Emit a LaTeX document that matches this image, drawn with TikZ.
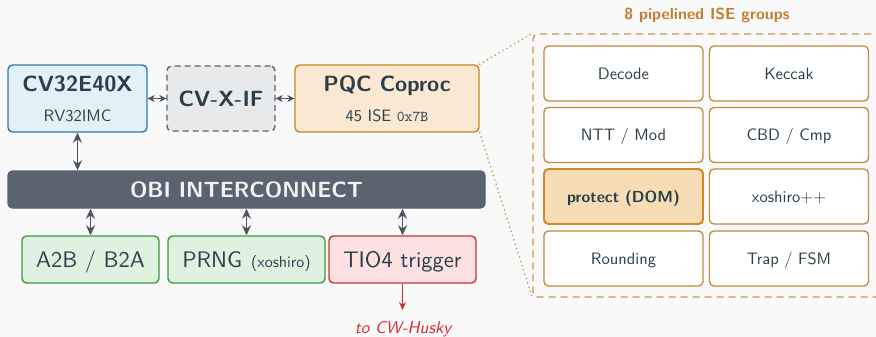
\documentclass[tikz,border=0pt]{standalone}
\usepackage{fontspec}
\setsansfont{lmsans10-regular.otf}[BoldFont=lmsans10-bold.otf, ItalicFont=lmsans10-oblique.otf, BoldItalicFont=lmsans10-boldoblique.otf]
\setmonofont{lmmono10-regular.otf}
\usetikzlibrary{arrows.meta}

\definecolor{bgc}{HTML}{F9F9F9}
\definecolor{ink}{HTML}{2C3E4A}
\definecolor{cpufill}{HTML}{E4F0F8}
\definecolor{cpuline}{HTML}{2F78B0}
\definecolor{xiffill}{HTML}{E8E9EB}
\definecolor{xifline}{HTML}{5C6470}
\definecolor{pqcfill}{HTML}{FBE8D2}
\definecolor{pqcline}{HTML}{C98526}
\definecolor{busfill}{HTML}{5B6370}
\definecolor{bustext}{HTML}{F2F2F2}
\definecolor{grnfill}{HTML}{E0F2DF}
\definecolor{grnline}{HTML}{3D9A3F}
\definecolor{redfill}{HTML}{FCE0E2}
\definecolor{redline}{HTML}{CC3333}
\definecolor{arrowc}{HTML}{4A5563}
\definecolor{husky}{HTML}{D42A2A}
\definecolor{framec}{HTML}{C99A4E}
\definecolor{titlec}{HTML}{C08030}
\definecolor{cellline}{HTML}{C18A3C}
\definecolor{protfill}{HTML}{F6DDB5}
\definecolor{protline}{HTML}{D3881E}

\tikzset{
  blk/.style={rectangle, rounded corners=4.5pt, line width=1.4pt, inner sep=0pt, text=ink, font=\sffamily},
  bigtitle/.style={font=\sffamily\bfseries\fontsize{22}{26}\selectfont, text=ink, inner sep=0pt, anchor=base},
  subtitle/.style={font=\sffamily\fontsize{16.5}{20}\selectfont, text=ink, inner sep=0pt, anchor=base},
  cpubox/.style={blk, draw=cpuline, fill=cpufill, minimum width=139pt, minimum height=67pt},
  xifbox/.style={blk, draw=xifline, fill=xiffill, dash pattern=on 6pt off 4pt, minimum width=108pt, minimum height=65pt,
                 font=\sffamily\bfseries\fontsize{22}{26}\selectfont, text height=15.3pt, text depth=0pt},
  pqcbox/.style={blk, draw=pqcline, fill=pqcfill, minimum width=184pt, minimum height=67pt},
  busbox/.style={blk, draw=busfill, fill=busfill, text=bustext, minimum width=477pt, minimum height=37pt,
                 font=\sffamily\bfseries\fontsize{22}{26}\selectfont, text height=15.3pt, text depth=0pt},
  periph/.style={blk, minimum height=47pt, font=\sffamily\fontsize{22.5}{26}\selectfont, text height=15.6pt, text depth=0pt},
  grnbox/.style={periph, draw=grnline, fill=grnfill},
  redbox/.style={periph, draw=redline, fill=redfill},
  groupframe/.style={rectangle, rounded corners=5pt, draw=framec, line width=1.4pt, dash pattern=on 7pt off 5pt,
                     minimum width=367pt, minimum height=263pt, inner sep=0pt},
  cell/.style={blk, draw=cellline, fill=white, line width=1.3pt, minimum width=159pt, minimum height=55pt,
               font=\sffamily\fontsize{16.5}{20}\selectfont, text height=11.45pt, text depth=0pt},
  hotcell/.style={cell, draw=protline, fill=protfill, line width=1.9pt, font=\sffamily\bfseries\fontsize{16}{20}\selectfont},
  link/.style={draw=arrowc, line width=1.8pt, {Stealth[length=10pt,width=9pt]}-{Stealth[length=10pt,width=9pt]}},
  shortlink/.style={draw=arrowc, line width=1.8pt, {Stealth[length=7pt,width=7pt]}-{Stealth[length=7pt,width=7pt]}},
  zoomline/.style={draw=cellline, line width=1.7pt, line cap=round, dash pattern=on 0pt off 4.5pt}
}

\begin{document}
\begin{tikzpicture}[x=1pt,y=-1pt]
  \fill[bgc] (0,0) rectangle (876,337);
  \useasboundingbox (0,0) rectangle (876,337);
  \clip (0,0) rectangle (876,337);

  % core, interface and coprocessor
  \node[cpubox] (cpu) at (77.5,98.5) {};
  \node[bigtitle] (cpuname) at (77.5,91.6) {CV32E40X};
  \node[subtitle] (cpuisa) at (77.5,121.7) {RV32IMC};

  \node[xifbox] (xif) at (221,98.5) {CV-X-IF};

  \node[pqcbox] (pqc) at (387,98.5) {};
  \node[bigtitle] (pqcname) at (387,91.6) {PQC Coproc};
  \node[subtitle] (pqcops) at (387,121.7) {45 ISE {\ttfamily\fontsize{15}{18}\selectfont 0x7B}};

  \draw[shortlink] (cpu.east) -- (xif.west);
  \draw[shortlink] (xif.east) -- (pqc.west);

  % bus and peripherals
  \node[busbox] (obi) at (246.5,189.5) {OBI INTERCONNECT};
  \draw[link] (cpu.south) -- (obi.north -| cpu.south);

  \node[grnbox, minimum width=137pt] (a2b) at (90.5,259.5) {A2B / B2A};
  \node[grnbox, minimum width=157pt] (prng) at (246.5,259.5) {PRNG\hspace{9pt}{\fontsize{16}{19}\selectfont(xoshiro)}};
  \node[redbox, minimum width=147pt] (tio) at (402.5,259.5) {TIO4 trigger};

  \draw[link] (obi.south -| a2b.north) -- (a2b.north);
  \draw[link] (obi.south -| prng.north) -- (prng.north);
  \draw[link] (obi.south -| tio.north) -- (tio.north);

  \coordinate (huskyend) at (402.5,310);
  \draw[draw=husky, line width=1.6pt, -{Stealth[length=8pt,width=7pt]}] (tio.south) -- (huskyend);
  \node[font=\sffamily\itshape\fontsize{17}{20}\selectfont, text=husky, inner sep=0pt, anchor=base] (husky) at (403,333) {to CW-Husky};

  % ISE group panel
  \node[font=\sffamily\bfseries\fontsize{16}{19}\selectfont, text=titlec, inner sep=0pt, anchor=base] (grouptitle) at (707,19.3) {8 pipelined ISE groups};
  \node[groupframe] (frame) at (716.5,165.5) {};
  \draw[zoomline] (pqc.north east) -- (frame.north west);
  \draw[zoomline] (pqc.south east) -- (frame.south west);

  \node[cell] (decode) at (623.5,73.5) {Decode};
  \node[cell] (keccak) at (789,73.5) {Keccak};
  \node[cell] (ntt) at (623.5,135) {NTT / Mod};
  \node[cell] (cbd) at (789,135) {CBD / Cmp};
  \node[hotcell] (protect) at (623.5,196.5) {protect (DOM)};
  \node[cell] (xoshiro) at (789,196.5) {xoshiro++};
  \node[cell] (rounding) at (623.5,258.5) {Rounding};
  \node[cell] (trap) at (789,258.5) {Trap / FSM};
\end{tikzpicture}
\end{document}
